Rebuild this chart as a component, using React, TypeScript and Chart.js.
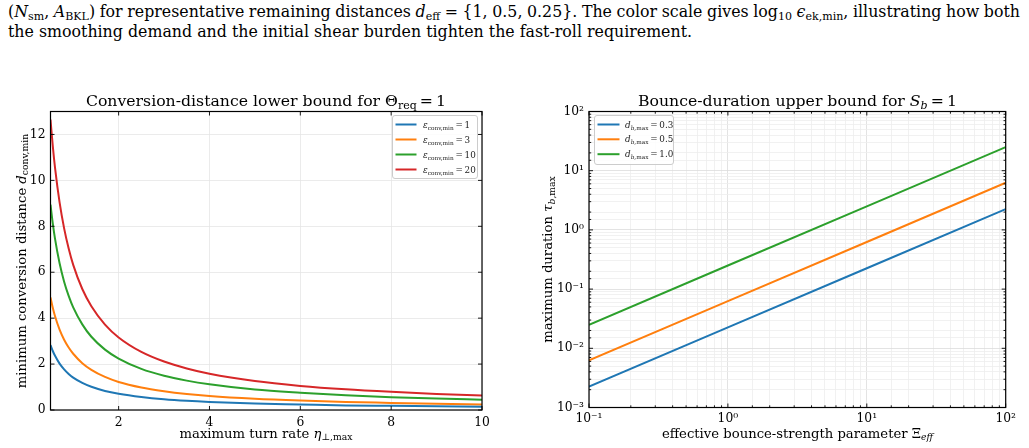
import React, { useEffect, useLayoutEffect, useRef } from 'react';
import { Chart, registerables } from 'chart.js';

Chart.register(...registerables);

// ---------------- data ----------------
const COLORS = ['#1f77b4', '#ff7f0e', '#2ca02c', '#d62728'];

// Left panel: minimum conversion distance vs. maximum turn rate
const etaValues = [0.5, 0.55, 0.6, 0.7, 0.8, 0.9, 1, 1.2, 1.4, 1.7, 2, 2.5, 3, 3.5, 4, 5, 6, 7, 8, 9, 10];
const dConvEps1 = [2.83, 2.57, 2.36, 2.02, 1.77, 1.57, 1.41, 1.18, 1.01, 0.83, 0.71, 0.57, 0.47, 0.4, 0.35, 0.28, 0.24, 0.2, 0.18, 0.16, 0.14];
const dConvEps3 = [4.9, 4.45, 4.08, 3.5, 3.06, 2.72, 2.45, 2.04, 1.75, 1.44, 1.22, 0.98, 0.82, 0.7, 0.61, 0.49, 0.41, 0.35, 0.31, 0.27, 0.24];
const dConvEps10 = [8.94, 8.13, 7.45, 6.39, 5.59, 4.97, 4.47, 3.73, 3.19, 2.63, 2.24, 1.79, 1.49, 1.28, 1.12, 0.89, 0.75, 0.64, 0.56, 0.5, 0.45];
const dConvEps20 = [12.65, 11.5, 10.54, 9.04, 7.91, 7.03, 6.32, 5.27, 4.52, 3.72, 3.16, 2.53, 2.11, 1.81, 1.58, 1.26, 1.05, 0.9, 0.79, 0.7, 0.63];
const epsLabels = ['1', '3', '10', '20'];
const leftXTicks = [2, 4, 6, 8, 10];
const leftYTicks = [0, 2, 4, 6, 8, 10, 12];

// Right panel: maximum bounce duration vs. effective bounce strength
const xiValues = [0.1, 1, 10, 100];
const tauDb03 = [0.00225, 0.0225, 0.225, 2.25];
const tauDb05 = [0.00625, 0.0625, 0.625, 6.25];
const tauDb10 = [0.025, 0.25, 2.5, 25];
const dbLabels = ['0.3', '0.5', '1.0'];

// ---------------- helpers ----------------
const FONT = 'DejaVu Serif';
type Seg = { t: string; it?: boolean; sub?: boolean };
const TS = '\u2009'; // thin space

function drawRich(ctx: CanvasRenderingContext2D, segs: Seg[], x: number, baseline: number, size: number, align: 'left' | 'center' | 'right', subScale = 0.7) {
  const parts = segs.map((s) => {
    const fs = s.sub ? size * subScale : size;
    const font = `${s.it ? 'italic ' : ''}${fs}px "${FONT}"`;
    ctx.font = font;
    return { t: s.t, font, w: ctx.measureText(s.t).width, dy: s.sub ? size * 0.22 : 0 };
  });
  const total = parts.reduce((a, p) => a + p.w, 0);
  let cx = align === 'center' ? x - total / 2 : align === 'right' ? x - total : x;
  ctx.textAlign = 'left';
  ctx.textBaseline = 'alphabetic';
  for (const p of parts) {
    ctx.font = p.font;
    ctx.fillText(p.t, cx, baseline + p.dy);
    cx += p.w;
  }
}

const isDecade = (v: number) => Math.abs(Math.log10(v) - Math.round(Math.log10(v))) < 1e-6;
const SUP: Record<string, string> = { '-': '⁻', '0': '⁰', '1': '¹', '2': '²', '3': '³', '4': '⁴' };
const decadeLabel = (v: number) => '10' + String(Math.round(Math.log10(v))).split('').map((c) => SUP[c]).join('');

type Decor = {
  title: Seg[]; titleX: number; titleY: number;
  xlabel: Seg[]; xlabelX: number; xlabelY: number;
  ylabel: Seg[]; ylabelX: number; ylabelY: number;
  legend: { box: [number, number, number, number]; lineX: [number, number]; textX: number; ys: number[]; items: Seg[][] };
  log: boolean;
};

const TITLE_SIZE = 15.7;
const LABEL_SIZE = 13.2;
const TICK_SIZE = 12.3;
const LEGEND_SIZE = 8.8;

function makeDecor(d: Decor) {
  return {
    id: 'decor',
    afterDatasetsDraw(chart: any) {
      const ctx: CanvasRenderingContext2D = chart.ctx;
      const { left, right, top, bottom } = chart.chartArea;
      ctx.save();
      ctx.strokeStyle = '#000';
      ctx.lineWidth = 0.9;
      const xs = chart.scales.x;
      const ys = chart.scales.y;
      for (const t of xs.ticks) {
        const px = xs.getPixelForValue(t.value);
        const len = !d.log || isDecade(t.value) ? 4 : 2.2;
        ctx.beginPath();
        ctx.moveTo(px, bottom); ctx.lineTo(px, bottom - len);
        ctx.moveTo(px, top); ctx.lineTo(px, top + len);
        ctx.stroke();
      }
      for (const t of ys.ticks) {
        const py = ys.getPixelForValue(t.value);
        const len = !d.log || isDecade(t.value) ? 4 : 2.2;
        ctx.beginPath();
        ctx.moveTo(left, py); ctx.lineTo(left + len, py);
        ctx.moveTo(right, py); ctx.lineTo(right - len, py);
        ctx.stroke();
      }
      // legend
      const [bx, by, bw, bh] = d.legend.box;
      ctx.beginPath();
      ctx.roundRect(bx + 0.5, by + 0.5, bw, bh, 2.5);
      ctx.fillStyle = 'rgba(255,255,255,0.85)';
      ctx.fill();
      ctx.strokeStyle = '#cccccc';
      ctx.lineWidth = 1;
      ctx.stroke();
      d.legend.items.forEach((segs, i) => {
        const y = d.legend.ys[i];
        ctx.beginPath();
        ctx.strokeStyle = COLORS[i];
        ctx.lineWidth = 2;
        ctx.moveTo(d.legend.lineX[0], y);
        ctx.lineTo(d.legend.lineX[1], y);
        ctx.stroke();
        ctx.fillStyle = '#222';
        drawRich(ctx, segs, d.legend.textX, y + 3.1, LEGEND_SIZE, 'left', 0.66);
      });
      // spines
      ctx.strokeStyle = '#000';
      ctx.lineWidth = 1.2;
      ctx.strokeRect(left, top, right - left, bottom - top);
      // title and axis labels
      ctx.fillStyle = '#000';
      drawRich(ctx, d.title, d.titleX, d.titleY, TITLE_SIZE, 'center');
      drawRich(ctx, d.xlabel, d.xlabelX, d.xlabelY, LABEL_SIZE, 'center');
      ctx.translate(d.ylabelX, d.ylabelY);
      ctx.rotate(-Math.PI / 2);
      drawRich(ctx, d.ylabel, 0, 0, LABEL_SIZE, 'center');
      ctx.restore();
    },
  };
}

const CANVAS_TOP = 80;
const CANVAS_H = 368;

function leftConfig(): any {
  const series = [dConvEps1, dConvEps3, dConvEps10, dConvEps20];
  const tickFont = { family: FONT, size: TICK_SIZE };
  return {
    type: 'line',
    data: {
      datasets: series.map((s, i) => ({
        label: 'eps = ' + epsLabels[i],
        data: etaValues.map((x, j) => ({ x, y: s[j] })),
        borderColor: COLORS[i],
        borderWidth: 2,
        pointRadius: 0,
        cubicInterpolationMode: 'monotone',
        fill: false,
      })),
    },
    options: {
      responsive: false,
      animation: false,
      devicePixelRatio: 1,
      layout: { padding: { left: 0, top: 111.5 - CANVAS_TOP, right: 515 - 482, bottom: 0 } },
      plugins: { legend: { display: false }, title: { display: false }, tooltip: { enabled: false } },
      scales: {
        x: {
          type: 'linear', min: 0.5, max: 10,
          afterBuildTicks: (s: any) => { s.ticks = leftXTicks.map((v) => ({ value: v })); },
          afterFit: (s: any) => { s.height = CANVAS_H - (410 - CANVAS_TOP); },
          grid: { color: '#e6e6e6', lineWidth: 0.8, drawTicks: false },
          border: { display: false },
          ticks: { padding: 5, color: '#000', font: tickFont, maxRotation: 0, autoSkip: false },
        },
        y: {
          type: 'linear', min: 0, max: 13,
          afterBuildTicks: (s: any) => { s.ticks = leftYTicks.map((v) => ({ value: v })); },
          afterFit: (s: any) => { s.width = 50.5; },
          grid: { color: '#e6e6e6', lineWidth: 0.8, drawTicks: false },
          border: { display: false },
          ticks: { padding: 5, color: '#000', font: tickFont, autoSkip: false },
        },
      },
    },
    plugins: [
      makeDecor({
        title: [{ t: 'Conversion-distance lower bound for Θ' }, { t: 'req', sub: true }, { t: TS + '=' + TS + '1' }],
        titleX: 266, titleY: 105.7 - CANVAS_TOP,
        xlabel: [{ t: 'maximum turn rate ' }, { t: 'η', it: true }, { t: '⊥,max', sub: true }],
        xlabelX: 266, xlabelY: 437.5 - CANVAS_TOP,
        ylabel: [{ t: 'minimum conversion distance ' }, { t: 'd', it: true }, { t: 'conv,min', sub: true }],
        ylabelX: 25.5, ylabelY: 261 - CANVAS_TOP,
        legend: {
          box: [392, 115 - CANVAS_TOP, 85, 63],
          lineX: [395.5, 416.5],
          textX: 423,
          ys: [124.5 - CANVAS_TOP, 139.5 - CANVAS_TOP, 154.5 - CANVAS_TOP, 169.5 - CANVAS_TOP],
          items: epsLabels.map((l) => [{ t: 'ε', it: true }, { t: 'conv,min', sub: true }, { t: TS + '=' + TS + l }]),
        },
        log: false,
      }),
    ],
  };
}

const RIGHT_LEFT = 515;

function rightConfig(): any {
  const series = [tauDb03, tauDb05, tauDb10];
  const tickFont = { family: FONT, size: TICK_SIZE };
  const gridColor = (c: any) => (c.tick && isDecade(c.tick.value) ? '#dcdcdc' : '#eeeeee');
  return {
    type: 'line',
    data: {
      datasets: series.map((s, i) => ({
        label: 'db = ' + dbLabels[i],
        data: xiValues.map((x, j) => ({ x, y: s[j] })),
        borderColor: COLORS[i],
        borderWidth: 2,
        pointRadius: 0,
        fill: false,
      })),
    },
    options: {
      responsive: false,
      animation: false,
      devicePixelRatio: 1,
      layout: { padding: { left: 0, top: 111.5 - CANVAS_TOP, right: 514 - (1005.7 - RIGHT_LEFT), bottom: 0 } },
      plugins: { legend: { display: false }, title: { display: false }, tooltip: { enabled: false } },
      scales: {
        x: {
          type: 'logarithmic', min: 0.1, max: 100,
          afterFit: (s: any) => { s.height = CANVAS_H - (407.5 - CANVAS_TOP); },
          grid: { color: gridColor, lineWidth: 0.8, drawTicks: false },
          border: { display: false },
          ticks: { padding: 4, color: '#000', font: tickFont, maxRotation: 0, autoSkip: false, callback: (v: number) => (isDecade(v) ? decadeLabel(v) : '') },
        },
        y: {
          type: 'logarithmic', min: 0.001, max: 100,
          afterFit: (s: any) => { s.width = 589 - RIGHT_LEFT; },
          grid: { color: gridColor, lineWidth: 0.8, drawTicks: false },
          border: { display: false },
          ticks: { padding: 5, color: '#000', font: tickFont, autoSkip: false, callback: (v: number) => (isDecade(v) ? decadeLabel(v) : '') },
        },
      },
    },
    plugins: [
      makeDecor({
        title: [{ t: 'Bounce-duration upper bound for ' }, { t: 'S', it: true }, { t: 'b', it: true, sub: true }, { t: TS + '=' + TS + '1' }],
        titleX: 797.5 - RIGHT_LEFT, titleY: 105.7 - CANVAS_TOP,
        xlabel: [{ t: 'effective bounce-strength parameter Ξ' }, { t: 'eff', it: true, sub: true }],
        xlabelX: 797.5 - RIGHT_LEFT, xlabelY: 437.5 - CANVAS_TOP,
        ylabel: [{ t: 'maximum duration ' }, { t: 'τ', it: true }, { t: 'b', it: true, sub: true }, { t: ',max', sub: true }],
        ylabelX: 552 - RIGHT_LEFT, ylabelY: 259.5 - CANVAS_TOP,
        legend: {
          box: [594 - RIGHT_LEFT, 115 - CANVAS_TOP, 79, 49],
          lineX: [597.5 - RIGHT_LEFT, 619.5 - RIGHT_LEFT],
          textX: 625 - RIGHT_LEFT,
          ys: [124.5 - CANVAS_TOP, 139.3 - CANVAS_TOP, 154.2 - CANVAS_TOP],
          items: dbLabels.map((l) => [{ t: 'd', it: true }, { t: 'b', it: true, sub: true }, { t: ',max', sub: true }, { t: TS + '=' + TS + l }]),
        },
        log: true,
      }),
    ],
  };
}

function ChartCanvas({ make, left, width }: { make: () => any; left: number; width: number }) {
  const ref = useRef<HTMLCanvasElement>(null);
  useEffect(() => {
    const chart = new Chart(ref.current as HTMLCanvasElement, make());
    return () => chart.destroy();
  }, []);
  return (
    <canvas
      ref={ref}
      width={width}
      height={CANVAS_H}
      style={{ position: 'absolute', left, top: CANVAS_TOP, width, height: CANVAS_H, display: 'block' }}
    />
  );
}

const subStyle: React.CSSProperties = { fontSize: '0.7em', verticalAlign: '-0.28em', lineHeight: 0 };

function FitLine({ top, target, children }: { top: number; target: number; children: React.ReactNode }) {
  const ref = useRef<HTMLDivElement>(null);
  useLayoutEffect(() => {
    const el = ref.current;
    if (!el) return;
    el.style.wordSpacing = '0px';
    const w = el.getBoundingClientRect().width;
    const spaces = (el.textContent || '').split(' ').length - 1;
    if (spaces > 0) el.style.wordSpacing = `${(target - w) / spaces}px`;
  }, []);
  return (
    <div
      ref={ref}
      style={{
        position: 'absolute', left: 8, top, whiteSpace: 'nowrap', fontFamily: '"DejaVu Serif", serif',
        fontSize: 15.8, lineHeight: '20px', color: '#000',
      }}
    >
      {children}
    </div>
  );
}

export default function App() {
  return (
    <div style={{ position: 'absolute', left: 0, top: 0, width: 1029, height: 448, background: '#fff', overflow: 'hidden' }}>
      <FitLine top={2} target={1012}>
        (<i>N</i><sub style={subStyle}>sm</sub>, <i>A</i><sub style={subStyle}>BKL</sub>) for representative remaining distances{' '}
        <i>d</i><sub style={subStyle}>eff</sub> = {'{'}1, 0.5, 0.25{'}'}. The color scale gives log<sub style={subStyle}>10</sub>{' '}
        <i>ϵ</i><sub style={subStyle}>ek,min</sub>, illustrating how both
      </FitLine>
      <FitLine top={22} target={684}>
        the smoothing demand and the initial shear burden tighten the fast-roll requirement.
      </FitLine>
      <ChartCanvas make={leftConfig} left={0} width={515} />
      <ChartCanvas make={rightConfig} left={RIGHT_LEFT} width={514} />
    </div>
  );
}
